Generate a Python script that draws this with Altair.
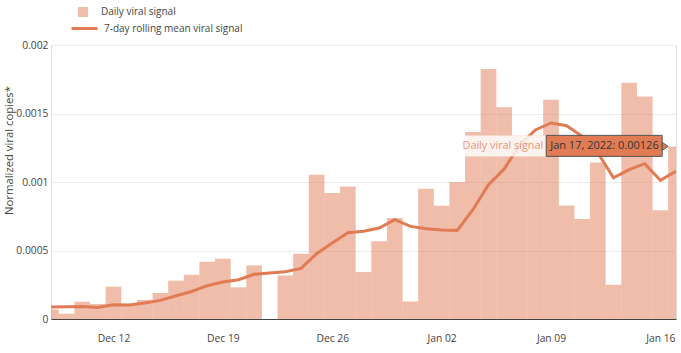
import altair as alt
import pandas as pd

# ---- data ----
start_date = "2021-12-08"
n_days = 41
daily_signal = [0.00007, 0.000039, 0.000126, 0.00011, 0.000236, 0.00011, 0.000139,
                0.00019, 0.00028, 0.000323, 0.000418, 0.00044, 0.000231, 0.000391,
                None, 0.000318, 0.000477, 0.001053, 0.00092, 0.000968, 0.000343,
                0.000567, 0.000737, 0.000128, 0.000951, 0.000827, 0.001, 0.001365,
                0.001825, 0.001545, 0.00134, 0.00134, 0.0016, 0.000829, 0.00073,
                0.001143, 0.00025, 0.001725, 0.001625, 0.000793, 0.00126]
rolling_mean = [0.0000876, 0.0000898, 0.000092, 0.0000847, 0.000104, 0.000102, 0.000117,
                0.000136, 0.00017, 0.000201, 0.000243, 0.00027, 0.000287, 0.000326,
                0.000336, 0.000345, 0.000369, 0.000477, 0.000555, 0.00063, 0.00064,
                0.000664, 0.000725, 0.000676, 0.000659, 0.00065, 0.000647, 0.000798,
                0.00098, 0.001095, 0.00127, 0.00138, 0.001431, 0.001411, 0.001333,
                0.001212, 0.00103, 0.00109, 0.001134, 0.001012, 0.001078]
bar_name = "Daily viral signal"
line_name = "7-day rolling mean viral signal"
y_title = "Normalized viral copies*"
y_ticks = [0, 0.0005, 0.001, 0.0015, 0.002]
x_tick_days = [(2021, 12, 12), (2021, 12, 19), (2021, 12, 26),
               (2022, 1, 2), (2022, 1, 9), (2022, 1, 16)]
hover_label = "Jan 17, 2022"

COLOR = "#E07B54"
TEXT = "#444444"
FONT = "Open Sans"

days = pd.date_range(start_date, periods=n_days, freq="D")
fmt = "%Y-%m-%dT%H:%M:%SZ"
df = pd.DataFrame({
    "date": [d.strftime(fmt) for d in days],
    "start": [(d - pd.Timedelta(hours=12)).strftime(fmt) for d in days],
    "end": [(d + pd.Timedelta(hours=12)).strftime(fmt) for d in days],
    "daily": daily_signal,
    "mean": rolling_mean,
    "bar_series": bar_name,
    "line_series": line_name,
})
df_bars = df[df["daily"].notna()]

hover_df = pd.DataFrame({
    "t": [df["start"].iloc[-1]],
    "v": [daily_signal[-1]],
    "label": [f"{hover_label}: {daily_signal[-1]:.5g}"],
    "name": [bar_name],
})

x_scale = alt.Scale(
    type="utc",
    domain=[alt.DateTime(year=2021, month=12, date=8, utc=True),
            alt.DateTime(year=2022, month=1, date=17, utc=True)],
)
y_scale = alt.Scale(domain=[0, 0.002], nice=False)

x_axis = alt.Axis(
    values=[alt.DateTime(year=y, month=m, date=d, utc=True) for (y, m, d) in x_tick_days],
    format="%b %d", grid=False, ticks=False, labelPadding=14,
    domain=True, domainColor=TEXT, domainWidth=1,
    labelColor=TEXT, labelFontSize=10.3, labelFont=FONT, title=None,
)
y_axis = alt.Axis(
    values=y_ticks, format="~g", grid=True, gridColor="#ebebeb", ticks=False,
    domain=False, labelPadding=3, labelColor=TEXT, labelFontSize=10.3,
    labelFont=FONT, title=y_title, titleFont=FONT, titleFontSize=11.3,
    titleFontWeight="normal", titleColor=TEXT, titleX=-39, titleY=105,
    titleAlign="center", titleBaseline="alphabetic", titleAngle=270,
)

bars = alt.Chart(df_bars).mark_rect(opacity=0.5, clip=True).encode(
    x=alt.X("start:T", scale=x_scale, axis=x_axis),
    x2="end:T",
    y=alt.Y("daily:Q", scale=y_scale, axis=y_axis),
    y2=alt.datum(0),
    color=alt.Color("bar_series:N", scale=alt.Scale(domain=[bar_name], range=[COLOR]),
                    legend=alt.Legend(orient="none", legendX=27, legendY=-38, title=None,
                                      symbolType="square", symbolSize=100,
                                      symbolOpacity=0.5, symbolStrokeWidth=0,
                                      labelOffset=13, padding=0,
                                      labelFont=FONT, labelFontSize=10,
                                      labelColor=TEXT)),
)

line = alt.Chart(df).mark_line(strokeWidth=3, clip=True).encode(
    x=alt.X("date:T", scale=x_scale),
    y=alt.Y("mean:Q", scale=y_scale),
    stroke=alt.Stroke("line_series:N", scale=alt.Scale(domain=[line_name], range=[COLOR]),
                      legend=alt.Legend(orient="none", legendX=19, legendY=-31, title=None,
                                        symbolType="stroke", symbolSize=676,
                                        symbolStrokeWidth=3, labelOffset=5, padding=0,
                                        labelFont=FONT, labelFontSize=10,
                                        labelColor=TEXT)),
)

hv = alt.Chart(hover_df)
hx = alt.X("t:T", scale=x_scale)
hy = alt.Y("v:Q", scale=y_scale)

name_box = hv.mark_rect(fill="white", fillOpacity=0.8, xOffset=-208, x2Offset=-122,
                        yOffset=-11, y2Offset=10).encode(x=hx, x2="t:T", y=hy, y2="v:Q")
name_text = hv.mark_text(align="right", baseline="middle", dx=-125, dy=0, font=FONT,
                         fontSize=10.8, color="#E8937A").encode(x=hx, y=hy, text="name:N")
main_box = hv.mark_rect(fill=COLOR, stroke="#555555", strokeWidth=1, xOffset=-122,
                        x2Offset=-6, yOffset=-11, y2Offset=10).encode(x=hx, x2="t:T", y=hy, y2="v:Q")
arrow = hv.mark_point(shape="M-0.75,-1L0.75,0L-0.75,1Z", size=64, filled=True,
                      fill=COLOR, stroke="#555555", strokeWidth=1, opacity=1,
                      xOffset=-3).encode(x=hx, y=hy)
main_text = hv.mark_text(align="left", baseline="middle", dx=-118, font=FONT,
                         fontSize=11, color="#333333").encode(x=hx, y=hy, text="label:N")

chart = alt.layer(bars, line, name_box, name_text, main_box, arrow, main_text).resolve_scale(
    color="independent", stroke="independent"
).properties(
    width=625, height=274,
    autosize=alt.AutoSizeParams(type="none"),
    padding={"left": 51, "top": 45, "right": 5, "bottom": 34},
).configure_view(stroke=None).configure(font=FONT)

chart.save("out.html", embed_options={"renderer": "svg", "actions": False})
